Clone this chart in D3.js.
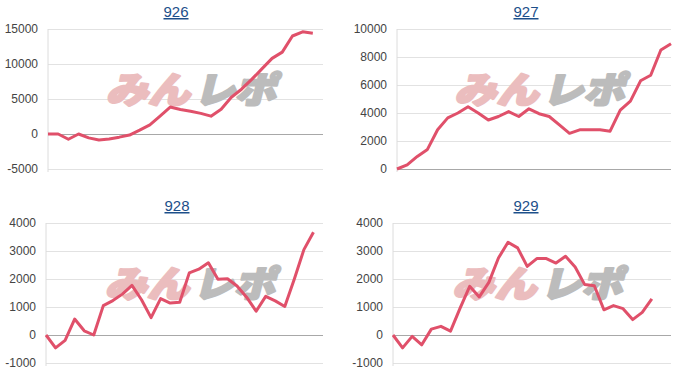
<!DOCTYPE html>
<html>
<head>
<meta charset="utf-8">
<script src="https://cdn.jsdelivr.net/npm/d3@7"></script>
<style>
  body { margin: 0; background: #fff; }
  svg { display: block; font-family: "Liberation Sans", Arial, sans-serif; }
</style>
</head>
<body>
<div id="chart"></div>
<script>
// Chart titles (machine numbers)
var titles = ["926", "927", "928", "929"];

// Number of day slots on each x axis
var slots = [28, 28, 30, 30];

// Y tick labels per chart
var ticks926 = [-5000, 0, 5000, 10000, 15000];
var ticks927 = [0, 2000, 4000, 6000, 8000, 10000];
var ticks928 = [-1000, 0, 1000, 2000, 3000, 4000];
var ticks929 = [-1000, 0, 1000, 2000, 3000, 4000];

// Daily values
var data926 = [0, 0, -750, 0, -550, -850, -700, -450, -150, 550, 1300, 2550, 3850, 3500,
  3250, 2950, 2550, 3550, 5250, 6400, 7800, 9300, 10800, 11700, 14000, 14600, 14400];
var data927 = [0, 300, 900, 1400, 2800, 3650, 4000, 4450, 4000, 3500, 3750, 4100, 3750, 4300,
  3950, 3750, 3150, 2550, 2800, 2800, 2800, 2700, 4200, 4850, 6300, 6700, 8500, 8950];
var data928 = [0, -460, -190, 570, 150, 0, 1050, 1230, 1460, 1770, 1260, 620, 1300, 1140, 1170,
  2220, 2350, 2580, 1990, 2010, 1750, 1350, 850, 1380, 1220, 1020, 2000, 3050, 3670];
var data929 = [0, -460, -50, -350, 210, 310, 140, 960, 1740, 1360, 1880, 2750, 3310, 3110,
  2450, 2730, 2730, 2570, 2810, 2430, 1800, 1760, 900, 1050, 940, 550, 810, 1290];

var allData = [data926, data927, data928, data929];
var allTicks = [ticks926, ticks927, ticks928, ticks929];

var width = 700, height = 388;

// Plot areas of the four panels
var boxes = [
  {left: 48, right: 323, top: 29, bottom: 169, cx: 176, ty: 17},
  {left: 397, right: 671, top: 29, bottom: 169, cx: 526, ty: 17},
  {left: 46, right: 323, top: 223, bottom: 363, cx: 177, ty: 211},
  {left: 393, right: 671, top: 223, bottom: 363, cx: 526, ty: 211}
];

var svg = d3.select("#chart").append("svg")
    .attr("width", width)
    .attr("height", height);

boxes.forEach(function(b, i) {
  var vals = allData[i], tks = allTicks[i];

  var x = d3.scaleLinear().domain([0, slots[i] - 1]).range([b.left, b.right]);
  var y = d3.scaleLinear().domain([tks[0], tks[tks.length - 1]]).range([b.bottom, b.top]);

  var g = svg.append("g");

  // Title
  g.append("text")
      .attr("x", b.cx)
      .attr("y", b.ty)
      .attr("text-anchor", "middle")
      .attr("font-size", 15)
      .attr("fill", "#1d4f8a")
      .attr("text-decoration", "underline")
      .text(titles[i]);

  // Gridlines and tick labels (plain hyphen for negatives)
  var axis = g.append("g")
      .attr("transform", "translate(" + b.left + ",0)")
      .call(d3.axisLeft(y).tickValues(tks).tickSize(-(b.right - b.left)).tickPadding(10)
        .tickFormat(function(d) { return String(d); }));
  axis.select(".domain").remove();
  axis.selectAll(".tick line")
      .attr("stroke", function(d) { return d === 0 ? "#a8a8a8" : "#e2e2e2"; });
  axis.selectAll(".tick text")
      .attr("fill", "#444")
      .attr("font-size", 12)
      .attr("font-family", "\"Liberation Sans\", Arial, sans-serif");

  // Left axis line
  g.append("line")
      .attr("x1", b.left).attr("x2", b.left)
      .attr("y1", b.top).attr("y2", b.bottom + 3)
      .attr("stroke", "#dcdcdc");

  // Watermark
  var mx = (b.left + b.right) / 2 + 10, my = (b.top + b.bottom) / 2 - 10;
  var wm = g.append("g")
      .attr("transform", "translate(" + mx + "," + my + ") skewX(-14)")
      .attr("font-family", "\"Noto Sans CJK JP\", sans-serif")
      .attr("font-weight", 900)
      .attr("font-size", 36)
      .attr("stroke-width", 2.5)
      .attr("stroke-linejoin", "round");
  wm.append("text")
      .attr("x", -86).attr("y", 14)
      .attr("textLength", 84).attr("lengthAdjust", "spacingAndGlyphs")
      .attr("fill", "#ebbdbe").attr("stroke", "#ebbdbe")
      .text("みん");
  wm.append("text")
      .attr("x", 2).attr("y", 14)
      .attr("textLength", 82).attr("lengthAdjust", "spacingAndGlyphs")
      .attr("fill", "#bcbcbc").attr("stroke", "#bcbcbc")
      .text("レポ");

  // Data line
  var line = d3.line()
      .x(function(d, j) { return x(j); })
      .y(function(d) { return y(d); });

  g.append("path")
      .datum(vals)
      .attr("fill", "none")
      .attr("stroke", "#e0506a")
      .attr("stroke-width", 3)
      .attr("stroke-linejoin", "round")
      .attr("d", line);
});
</script>
</body>
</html>
